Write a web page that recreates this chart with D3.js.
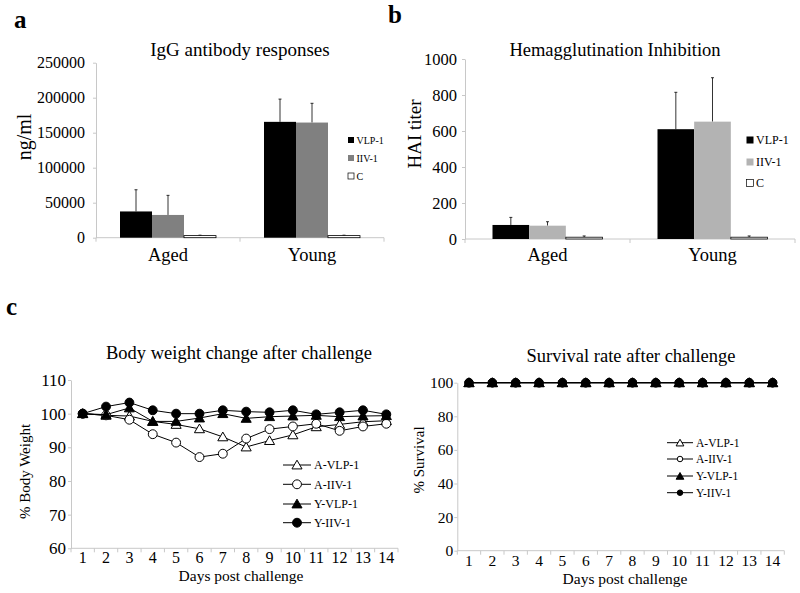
<!DOCTYPE html>
<html>
<head>
<meta charset="utf-8">
<script src="https://cdn.jsdelivr.net/npm/d3@7"></script>
<style>
  body { margin: 0; background: #fff; }
  svg { display: block; }
  svg text { font-family: "Liberation Serif", "Times New Roman", serif; }
</style>
</head>
<body>
<svg id="fig" width="800" height="593"></svg>
<script>
// ---- data ----
const groups = ['Aged', 'Young'];
const vaccines = ['VLP-1', 'IIV-1', 'C'];

// a: IgG antibody responses, ng/ml
const iggVLP = [37500, 165500];
const iggIIV = [32500, 164500];
const iggC = [3000, 3000];
const iggVLPErr = [31000, 32500];
const iggIIVErr = [28000, 27500];
const iggCErr = [600, 600];

// b: HAI titer
const haiVLP = [78, 610];
const haiIIV = [74, 652];
const haiC = [10, 10];
const haiVLPErr = [42, 205];
const haiIIVErr = [22, 244];
const haiCErr = [7, 7];

// c: body weight and survival
const days = [1, 2, 3, 4, 5, 6, 7, 8, 9, 10, 11, 12, 13, 14];
const lineSeries = ['A-VLP-1', 'A-IIV-1', 'Y-VLP-1', 'Y-IIV-1'];
const weightAVLP = [100, 99.5, 99.3, 97.7, 96.8, 95.5, 93.1, 90.1, 92.0, 93.7, 96.1, 96.8, 97.6, 97.9];
const weightAIIV = [100, 99.5, 98.2, 93.9, 91.4, 87.1, 88.1, 92.6, 95.4, 96.2, 97.0, 94.9, 96.2, 97.0];
const weightYVLP = [100, 99.7, 101.7, 97.7, 97.7, 98.7, 100, 98.6, 99.1, 99.3, 99.5, 99.1, 99.3, 99.4];
const weightYIIV = [100, 102.1, 103.3, 101.0, 100, 100, 101.0, 100.6, 100.4, 101.0, 99.8, 100.4, 101.0, 99.8];
const survAVLP = [100, 100, 100, 100, 100, 100, 100, 100, 100, 100, 100, 100, 100, 100];
const survAIIV = [100, 100, 100, 100, 100, 100, 100, 100, 100, 100, 100, 100, 100, 100];
const survYVLP = [100, 100, 100, 100, 100, 100, 100, 100, 100, 100, 100, 100, 100, 100];
const survYIIV = [100, 100, 100, 100, 100, 100, 100, 100, 100, 100, 100, 100, 100, 100];

const AXIS = '#c8c8c8';
const SERIF = '"Liberation Serif", "Times New Roman", serif';
const svg = d3.select('#fig');

function panelLetter(txt, x, y) {
    svg.append('text').attr('x', x).attr('y', y)
        .attr('font-size', 25).attr('font-weight', 'bold').text(txt);
}

function yAxis(g, y, x0, ticks, pad, fs) {
    const ax = g.append('g').attr('transform', `translate(${x0},0)`)
        .call(d3.axisLeft(y).tickValues(ticks).tickFormat(d3.format('d'))
            .tickSize(3).tickSizeOuter(0).tickPadding(pad));
    ax.attr('font-family', SERIF);
    ax.select('.domain').attr('stroke', AXIS);
    ax.selectAll('.tick line').attr('stroke', AXIS);
    ax.selectAll('text').attr('font-size', fs).attr('fill', '#000')
        .style('font-family', SERIF);
}

// ---- bar panels ----
function barPanel(O) {
    const g = svg.append('g');
    const x = d3.scaleBand().domain(groups).range(O.xRange);
    const inner = d3.scaleBand().domain(vaccines).range([0, x.bandwidth()]).paddingOuter(0.75);
    const y = d3.scaleLinear().domain(O.yDomain).range(O.yRange);
    const y0 = y(0);

    yAxis(g, y, O.xRange[0], O.yTicks, O.tickPad, O.tickFont);

    // x axis line and group boundary ticks
    g.append('line').attr('x1', O.xRange[0]).attr('x2', O.xRange[1])
        .attr('y1', y0).attr('y2', y0).attr('stroke', AXIS);
    const bounds = groups.map(d => x(d)).concat([x(groups[groups.length - 1]) + x.bandwidth()]);
    g.selectAll('.bt').data(bounds).join('line')
        .attr('x1', d => d).attr('x2', d => d).attr('y1', y0).attr('y2', y0 + 4).attr('stroke', AXIS);

    const rows = [];
    groups.forEach((grp, i) => {
        vaccines.forEach((v, j) => {
            rows.push({ grp, v, value: O.values[j][i], err: O.errors[j][i], fill: O.fills[j] });
        });
    });

    const mid = d => x(d.grp) + inner(d.v) + inner.bandwidth() / 2;
    g.selectAll('.err').data(rows).join('line')
        .attr('x1', mid).attr('x2', mid)
        .attr('y1', d => y(d.value)).attr('y2', d => y(d.value + d.err))
        .attr('stroke', '#000').attr('stroke-width', 0.8);
    g.selectAll('.cap').data(rows).join('line')
        .attr('x1', d => mid(d) - 1.5).attr('x2', d => mid(d) + 1.5)
        .attr('y1', d => y(d.value + d.err)).attr('y2', d => y(d.value + d.err))
        .attr('stroke', '#000').attr('stroke-width', 0.8);

    g.selectAll('.bar').data(rows).join('rect')
        .attr('x', d => x(d.grp) + inner(d.v))
        .attr('width', inner.bandwidth())
        .attr('y', d => y(d.value))
        .attr('height', d => y0 - y(d.value))
        .attr('fill', d => d.fill)
        .attr('stroke', d => d.fill === '#fff' ? '#000' : 'none')
        .attr('stroke-width', 0.8);

    // category labels
    g.selectAll('.cat').data(groups).join('text')
        .attr('x', d => x(d) + x.bandwidth() / 2).attr('y', O.catY)
        .attr('text-anchor', 'middle').attr('font-size', 18.5).text(d => d);

    // title + y label
    g.append('text').attr('x', O.titleX).attr('y', O.titleY).attr('text-anchor', 'middle')
        .attr('font-size', O.titleFont).text(O.title);
    g.append('text').attr('transform', `translate(${O.ylabX},${O.ylabY}) rotate(-90)`)
        .attr('text-anchor', 'middle').attr('font-size', O.ylabFont).text(O.ylab);

    // legend
    const lg = g.append('g').attr('transform', `translate(${O.legX},0)`);
    vaccines.forEach((v, j) => {
        const cy = O.legY[j];
        lg.append('rect').attr('x', 0).attr('y', cy - O.legBox / 2)
            .attr('width', O.legBox).attr('height', O.legBox)
            .attr('fill', O.fills[j]).attr('stroke', O.fills[j] === '#fff' ? '#000' : 'none')
            .attr('stroke-width', 0.7);
        lg.append('text').attr('x', O.legBox + 2.5).attr('y', cy).attr('dy', '0.35em')
            .attr('font-size', O.legFont).text(v);
    });
}

barPanel({
    xRange: [96, 384], yDomain: [0, 250000], yRange: [237.7, 62.7],
    yTicks: [0, 50000, 100000, 150000, 200000, 250000], tickPad: 8, tickFont: 16,
    values: [iggVLP, iggIIV, iggC], errors: [iggVLPErr, iggIIVErr, iggCErr],
    fills: ['#000', '#808080', '#fff'],
    catY: 261, title: 'IgG antibody responses', titleX: 240, titleY: 56, titleFont: 19,
    ylab: 'ng/ml', ylabX: 31, ylabY: 137, ylabFont: 20,
    legX: 348, legY: [140, 158, 176], legBox: 6, legFont: 10
});

barPanel({
    xRange: [465, 795], yDomain: [0, 1000], yRange: [239, 59],
    yTicks: [0, 200, 400, 600, 800, 1000], tickPad: 5, tickFont: 16.5,
    values: [haiVLP, haiIIV, haiC], errors: [haiVLPErr, haiIIVErr, haiCErr],
    fills: ['#000', '#b3b3b3', '#fff'],
    catY: 261, title: 'Hemagglutination Inhibition', titleX: 615, titleY: 55.5, titleFont: 18.5,
    ylab: 'HAI titer', ylabX: 421, ylabY: 134, ylabFont: 19,
    legX: 746.5, legY: [140, 162, 183], legBox: 7, legFont: 12
});

panelLetter('a', 14, 28);
panelLetter('b', 388, 23);
panelLetter('c', 6, 315);

// ---- line panels ----
const markers = {
    'A-VLP-1': { shape: d3.symbolTriangle, fill: '#fff' },
    'A-IIV-1': { shape: d3.symbolCircle, fill: '#fff' },
    'Y-VLP-1': { shape: d3.symbolTriangle, fill: '#000' },
    'Y-IIV-1': { shape: d3.symbolCircle, fill: '#000' }
};

function linePanel(O) {
    const g = svg.append('g');
    const x = d3.scaleBand().domain(days).range(O.xRange);
    const y = d3.scaleLinear().domain(O.yDomain).range(O.yRange);
    const y0 = O.yRange[0];

    yAxis(g, y, O.xRange[0], O.yTicks, O.tickPad, O.tickFont);

    g.append('line').attr('x1', O.xRange[0]).attr('x2', O.xRange[1])
        .attr('y1', y0).attr('y2', y0).attr('stroke', AXIS);
    const bounds = days.map(d => x(d)).concat([x(days[days.length - 1]) + x.bandwidth()]);
    g.selectAll('.bt').data(bounds).join('line')
        .attr('x1', d => d).attr('x2', d => d).attr('y1', y0).attr('y2', y0 + 4).attr('stroke', AXIS);
    g.selectAll('.dl').data(days).join('text')
        .attr('x', d => x(d) + x.bandwidth() / 2).attr('y', O.dayY)
        .attr('text-anchor', 'middle').attr('font-size', O.dayFont).text(d => d);

    const cx = d => x(d) + x.bandwidth() / 2;
    const line = d3.line().x((d, i) => cx(days[i])).y(d => y(d));
    const isTri = m => m.shape === d3.symbolTriangle;

    lineSeries.forEach((name, k) => {
        const vals = O.series[k];
        const m = markers[name];
        g.append('path').datum(vals).attr('d', line)
            .attr('fill', 'none').attr('stroke', '#000').attr('stroke-width', 1);
        g.selectAll(null).data(vals).join('path')
            .attr('transform', (d, i) => `translate(${cx(days[i])},${y(d) + (isTri(m) ? 1 : 0)})`)
            .attr('d', d3.symbol(m.shape, isTri(m) ? O.triSize : O.circSize))
            .attr('fill', m.fill).attr('stroke', '#000').attr('stroke-width', 1);
    });

    // legend
    lineSeries.forEach((name, k) => {
        const m = markers[name];
        const ly = O.legY[k];
        g.append('line').attr('x1', O.legX[0]).attr('x2', O.legX[1])
            .attr('y1', ly).attr('y2', ly).attr('stroke', '#000');
        g.append('path')
            .attr('transform', `translate(${(O.legX[0] + O.legX[1]) / 2},${ly + (isTri(m) ? 1 : 0)})`)
            .attr('d', d3.symbol(m.shape, isTri(m) ? O.legTri : O.legCirc))
            .attr('fill', m.fill).attr('stroke', '#000').attr('stroke-width', 1);
        g.append('text').attr('x', O.legX[1] + 3).attr('y', ly).attr('dy', '0.35em')
            .attr('font-size', O.legFont).text(name);
    });

    g.append('text').attr('x', O.titleX).attr('y', O.titleY).attr('text-anchor', 'middle')
        .attr('font-size', 18.5).text(O.title);
    g.append('text').attr('x', O.xlabX).attr('y', O.xlabY).attr('text-anchor', 'middle')
        .attr('font-size', 15.5).text('Days post challenge');
    g.append('text').attr('transform', `translate(${O.ylabX},${O.ylabY}) rotate(-90)`)
        .attr('text-anchor', 'middle').attr('font-size', 15).text(O.ylab);
}

linePanel({
    xRange: [71, 398], yDomain: [60, 110], yRange: [548.3, 380],
    yTicks: [60, 70, 80, 90, 100, 110], tickPad: 2, tickFont: 17,
    dayY: 563, dayFont: 16,
    series: [weightAVLP, weightAIIV, weightYVLP, weightYIIV],
    triSize: 44, circSize: 62, legTri: 44, legCirc: 62,
    legX: [283, 311], legY: [465, 484.3, 504, 522.7], legFont: 12,
    title: 'Body weight change after challenge', titleX: 239, titleY: 359,
    xlabX: 241, xlabY: 580.5, ylab: '% Body Weight', ylabX: 30, ylabY: 471.5
});

linePanel({
    xRange: [457.3, 784.3], yDomain: [0, 100], yRange: [550.7, 382.7],
    yTicks: [0, 20, 40, 60, 80, 100], tickPad: 1, tickFont: 15.5,
    dayY: 565.5, dayFont: 15.5,
    series: [survAVLP, survAIIV, survYVLP, survYIIV],
    triSize: 45, circSize: 56, legTri: 26, legCirc: 24,
    legX: [667, 693], legY: [442.7, 459, 476, 492.7], legFont: 11.5,
    title: 'Survival rate after challenge', titleX: 631, titleY: 362,
    xlabX: 625, xlabY: 583.5, ylab: '% Survival', ylabX: 424, ylabY: 460
});
</script>
</body>
</html>
